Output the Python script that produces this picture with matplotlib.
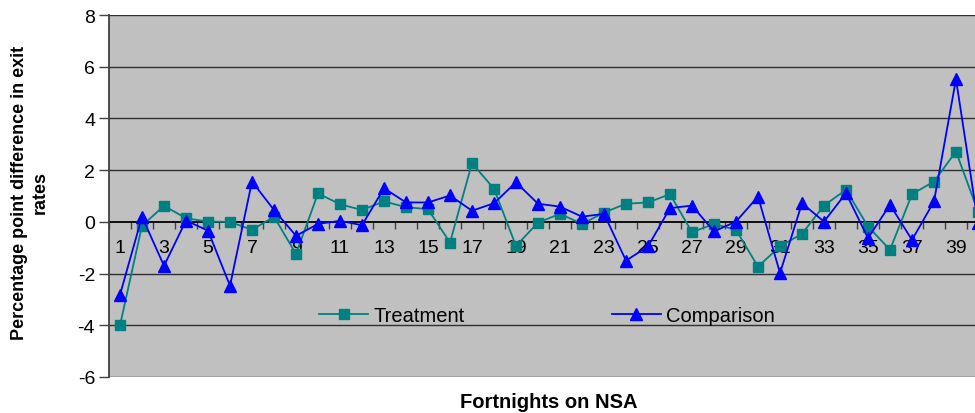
import numpy as np
import matplotlib.pyplot as plt
from matplotlib.ticker import FixedLocator, NullFormatter

plt.rcParams['font.family'] = ['Liberation Sans', 'DejaVu Sans']

# Fortnights on NSA (1..40)
fortnights = list(range(1, 41))

treatment = [-4.0, -0.15, 0.62, 0.14, 0.01, 0.0, -0.31, 0.2, -1.24, 1.1,
             0.68, 0.46, 0.79, 0.57, 0.49, -0.8, 2.27, 1.28, -0.93, -0.03,
             0.31, -0.08, 0.36, 0.7, 0.75, 1.07, -0.4, -0.08, -0.31, -1.73,
             -0.95, -0.46, 0.63, 1.24, -0.18, -1.08, 1.07, 1.56, 2.72, 0.4]

comparison = [-2.82, 0.2, -1.7, 0.05, -0.34, -2.47, 1.56, 0.46, -0.54, -0.08,
              0.04, -0.13, 1.3, 0.75, 0.75, 1.02, 0.43, 0.72, 1.53, 0.7,
              0.59, 0.2, 0.31, -1.5, -0.95, 0.53, 0.63, -0.37, 0.01, 0.98,
              -1.98, 0.72, 0.01, 1.11, -0.63, 0.66, -0.7, 0.79, 5.52, -0.05]

y_ticks = [-6, -4, -2, 0, 2, 4, 6, 8]


def main():
    fig = plt.figure(figsize=(9.75, 4.14), dpi=100)
    fig.patch.set_facecolor('white')

    # axes run slightly past the right edge of the picture, as in the original
    ax = fig.add_axes([109 / 975, 36 / 414, 880 / 975, 362 / 414])
    ax.set_facecolor('#c0c0c0')

    ax.plot(fortnights, treatment, color='#008080', marker='s', markersize=6.5,
            linewidth=1.3, label='Treatment', clip_on=False, zorder=3)
    ax.plot(fortnights, comparison, color='#0000ff', marker='^', markersize=8.5,
            linewidth=1.3, label='Comparison', clip_on=False, zorder=4)

    ax.set_xlim(0.5, len(fortnights) + 0.5)
    ax.set_ylim(-6, 8)

    # horizontal gridlines
    ax.set_yticks(y_ticks)
    ax.set_yticklabels([str(v) for v in y_ticks])
    for v in y_ticks:
        if v != 0:
            ax.axhline(v, color='#303030', linewidth=1.0, zorder=1)

    # category axis sits on y = 0
    for side in ['top', 'right']:
        ax.spines[side].set_visible(False)
    ax.spines['bottom'].set_position(('data', 0))
    ax.spines['bottom'].set_linewidth(1.3)
    ax.spines['bottom'].set_zorder(2)
    ax.spines['left'].set_color('#404040')
    ax.spines['left'].set_linewidth(1.3)

    ax.xaxis.set_major_locator(FixedLocator(np.arange(0.5, len(fortnights) + 1, 1)))
    ax.xaxis.set_major_formatter(NullFormatter())
    ax.tick_params(axis='x', which='major', direction='out', length=5, width=1,
                   color='#404040')
    ax.xaxis.set_minor_locator(FixedLocator(fortnights))
    ax.set_xticklabels([str(f) if f % 2 == 1 else '' for f in fortnights], minor=True)
    ax.tick_params(axis='x', which='minor', length=0, pad=12, labelsize=14)

    ax.tick_params(axis='y', direction='out', length=7, width=1, color='#404040',
                   labelsize=14, pad=3)

    fig.text(30 / 975, 1 - 193 / 414, 'Percentage point difference in exit\nrates',
             rotation=90, ha='center', va='center', fontsize=13,
             fontweight='bold', linespacing=1.3)

    fig.text(549 / 975, 1 - 403 / 414, 'Fortnights on NSA', ha='center', va='center',
             fontsize=14.5, fontweight='bold')

    ax.legend(loc='center left', bbox_to_anchor=(0.2295, 0.171), ncol=2, frameon=False,
              fontsize=14.5, handlelength=2.45, columnspacing=7.3, handletextpad=0.25,
              borderaxespad=0)

    fig.savefig('out.png', dpi=100)


if __name__ == '__main__':
    main()
